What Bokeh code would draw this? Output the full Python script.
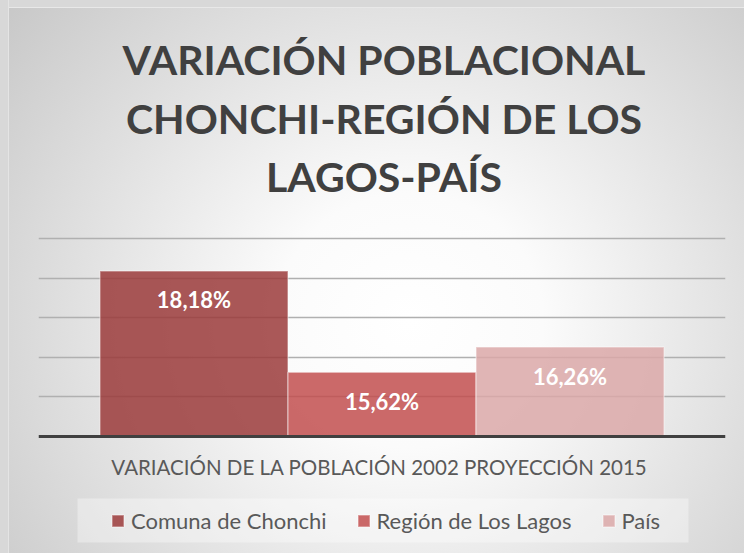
from bokeh.plotting import figure
from bokeh.models import (ColumnDataSource, FactorRange, Range1d, Legend, LegendItem,
                          FixedTicker, Label, BoxAnnotation, Span)
from bokeh.transform import dodge
from bokeh.core.properties import value
from bokeh.embed import file_html
from bokeh.resources import INLINE

title_lines = ["VARIACIÓN POBLACIONAL", "CHONCHI-REGIÓN DE LOS", "LAGOS-PAÍS"]
category = ["VARIACIÓN DE LA POBLACIÓN  2002 PROYECCIÓN 2015"]
series = ["Comuna de Chonchi", "Región de Los Lagos", "País"]
values = [18.18, 15.62, 16.26]
labels = ["18,18%", "15,62%", "16,26%"]
colors = ["#9B3B3B", "#C24F4F", "#DAA8A8"]
grid_ticks = [14, 15, 16, 17, 18, 19]
baseline = 14

FONT = "Lato"
bar_w = 0.2737

# layout (pixels)
W, H = 744, 553
LEFT, RIGHT = 38, 19
BASE_Y = 436          # baseline position from top
PXU = 39.6           # pixels per value unit

p = figure(width=W, height=H, x_range=FactorRange(factors=category),
           y_range=Range1d(baseline - (H - BASE_Y) / PXU, baseline + BASE_Y / PXU),
           output_backend="svg", toolbar_location=None,
           x_axis_location=None, y_axis_location=None,
           min_border_left=LEFT, min_border_right=RIGHT, min_border_top=0, min_border_bottom=0)

p.styles = {"background-image": (
    "linear-gradient(to right, #d8d8d8 0px, #d8d8d8 8px, #e4e4e4 8px, #e4e4e4 9px, transparent 9px),"
    "linear-gradient(to bottom, #d8d8d8 0px, #d8d8d8 7px, #e8e8e8 7px, #e8e8e8 8px, transparent 8px),"
    "radial-gradient(ellipse 72% 92% at 55% 58%, #ffffff 0%, #fbfbfb 25%, #c6c6c6 100%)")}
p.background_fill_alpha = 0
p.border_fill_alpha = 0
p.outline_line_color = None

p.xgrid.grid_line_color = None
p.ygrid.ticker = FixedTicker(ticks=grid_ticks[1:])
p.ygrid.grid_line_color = "#b0b0b0"
p.ygrid.grid_line_width = 1.3

offsets = [-bar_w, 0.0, bar_w]
items = []
for name, v, lab, c, off in zip(series, values, labels, colors, offsets):
    src = ColumnDataSource(dict(cat=category, val=[v], lab=[lab]))
    r = p.vbar(x=dodge("cat", off, range=p.x_range), top="val", bottom=baseline, width=bar_w,
               source=src, fill_color=c, fill_alpha=0.85, line_color="#ffffff",
               line_alpha=0.4, line_width=1.5)
    p.text(x=dodge("cat", off, range=p.x_range), y="val", text="lab", source=src,
           text_color="#ffffff", text_font=value(FONT), text_font_style="bold",
           text_font_size="22px", text_align="center", text_baseline="middle", y_offset=29)
    items.append(LegendItem(label=name, renderers=[r]))

# baseline (category axis line)
p.add_layout(Span(location=baseline, dimension="width", line_color="#404040", line_width=3))

# category label
cat_src = ColumnDataSource(dict(cat=category, y=[baseline]))
p.text(x="cat", y="y", text="cat", source=cat_src, text_color="#595959",
       text_font=value(FONT), text_font_size="20.5px", text_align="center",
       text_baseline="middle", y_offset=30)

# legend band
band = BoxAnnotation(left=77 - LEFT, right=688 - LEFT, top=H - 498, bottom=H - 542,
                     left_units="screen", right_units="screen", top_units="screen",
                     bottom_units="screen", fill_color="#ffffff", fill_alpha=0.35,
                     line_color=None, level="underlay")
p.add_layout(band)

legend = Legend(items=items, orientation="horizontal", location=(110 - LEFT, H - 534),
                label_text_font=FONT, label_text_font_size="22px", label_text_color="#595959",
                glyph_width=15, glyph_height=15, label_standoff=6, spacing=29,
                background_fill_alpha=0, border_line_color=None, padding=9, margin=0)
p.add_layout(legend)

title_centers = [59, 118, 176]
for line, yc in zip(title_lines, title_centers):
    p.add_layout(Label(x=(W - LEFT - RIGHT) / 2 + 2, y=H - yc, x_units="screen", y_units="screen",
                       text=line, text_align="center", text_baseline="middle",
                       text_font=FONT, text_font_style="bold", text_font_size="41px",
                       text_color="#404040"))

open("out.html", "w").write(file_html(p, INLINE))
